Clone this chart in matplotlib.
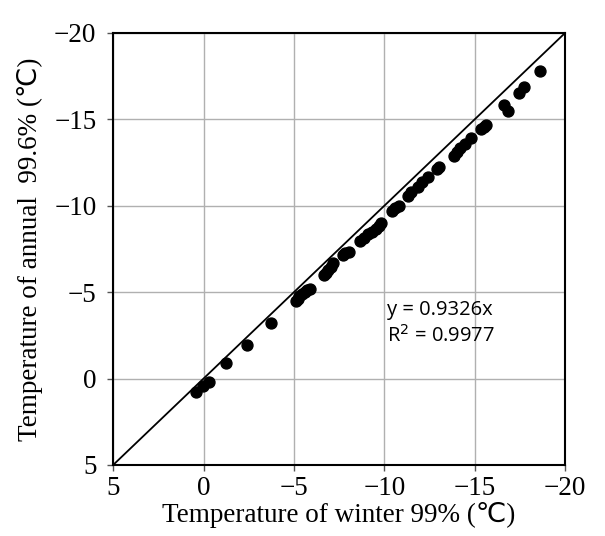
import matplotlib
matplotlib.use('agg')
import matplotlib.pyplot as plt
import numpy as np

# winter 99% vs annual 99.6% design temperatures (deg C)
winter_99 = [0.4, 0.05, -0.3, -1.27, -2.42, -3.72, -5.12, -5.2, -5.27, -5.45, -5.59, -5.75, -5.9,
             -6.65, -6.78, -6.9, -7.05, -7.18, -7.71, -7.85, -8.03, -8.67, -8.85, -9.1, -9.3, -9.52,
             -9.68, -9.84, -10.43, -10.6, -10.8, -11.33, -11.5, -11.86, -12.1, -12.39, -12.92, -13.05,
             -13.88, -14.0, -14.2, -14.45, -14.77, -15.37, -15.5, -15.62, -16.64, -16.85, -17.45,
             -17.75, -18.62]
annual_996 = [0.8, 0.43, 0.17, -0.89, -1.93, -3.22, -4.5, -4.62, -4.79, -4.88, -4.99, -5.1, -5.18,
              -5.97, -6.1, -6.27, -6.45, -6.66, -7.16, -7.25, -7.35, -7.94, -8.15, -8.34, -8.5, -8.63,
              -8.85, -9.03, -9.68, -9.85, -10.01, -10.54, -10.8, -11.1, -11.35, -11.69, -12.12, -12.25,
              -12.87, -13.1, -13.36, -13.6, -13.95, -14.44, -14.55, -14.68, -15.82, -15.47, -16.51,
              -16.85, -17.79]
ticks = [5, 0, -5, -10, -15, -20]

fig = plt.figure(figsize=(6.05, 5.36), dpi=100)
ax = fig.add_axes([0.187, 0.1325, 0.747, 0.806])

ax.plot([5, -20], [5, -20], color='black', lw=1.3, zorder=2)
ax.scatter(winter_99, annual_996, s=62, color='black', zorder=3)

ax.set_xlim(5, -20)
ax.set_ylim(5, -20)
ax.set_xticks(ticks)
ax.set_yticks(ticks)
ax.grid(True, color='#b0b0b0', lw=1.0, zorder=0)
ax.set_axisbelow(True)
for s in ax.spines.values():
    s.set_linewidth(1.5)
ax.tick_params(direction='out', length=4, width=1, color='#555555', labelsize=19.5)
ax.tick_params(axis='y', pad=8)
ax.tick_params(axis='x', pad=4)
for lab in ax.get_xticklabels() + ax.get_yticklabels():
    lab.set_family(['Liberation Serif', 'DejaVu Sans'])

lab_font = dict(family=['Liberation Serif', 'DejaVu Sans'], fontsize=19.5)
ax.set_xlabel('Temperature of winter 99% (\u2103)', labelpad=1, **lab_font)
ax.set_ylabel('Temperature of annual  99.6% (\u2103)', labelpad=8, **lab_font)

ax.text(-10.15, -3.2, 'y = 0.9326x\nR$^2$ = 0.9977', family='Open Sans', fontsize=14.5,
        linespacing=1.3, va='center', ha='left')

plt.savefig('out.png', dpi=100)
